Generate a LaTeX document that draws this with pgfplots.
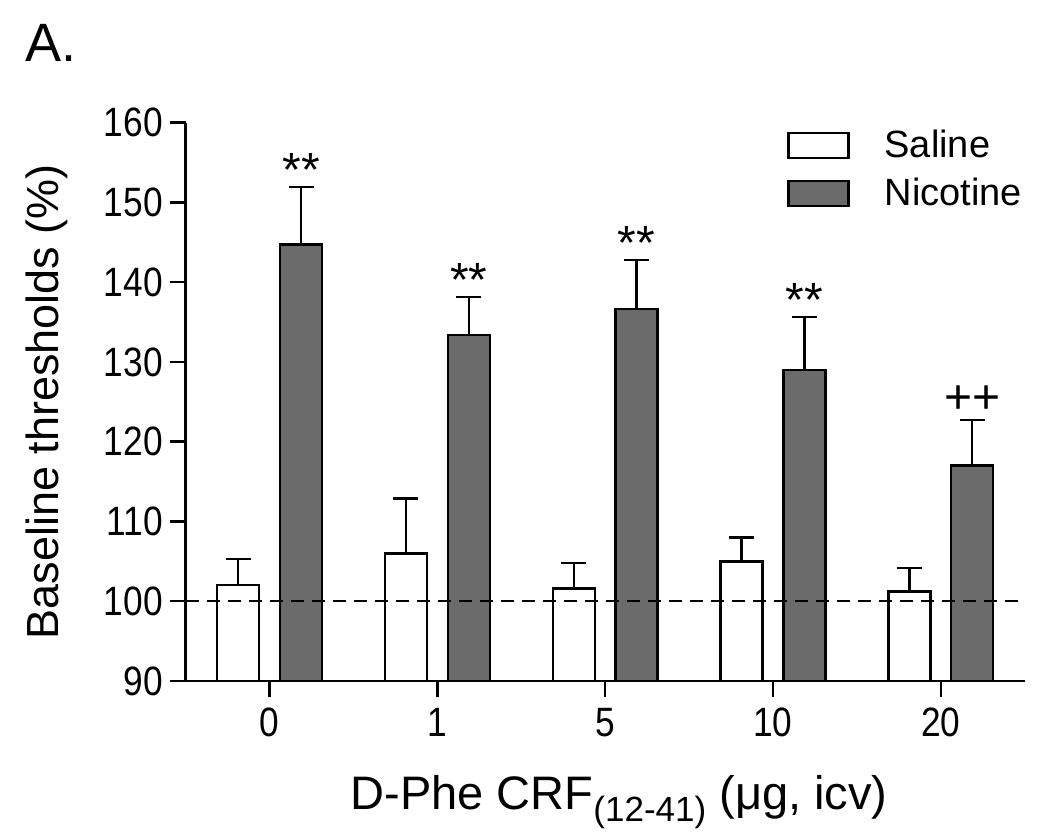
\documentclass[border=0pt]{standalone}
\usepackage{fontspec}
\setmainfont{Liberation Sans}
\newfontfamily\tickfont{Liberation Sans}[FakeStretch=0.86]
\usepackage{pgfplots}
\pgfplotsset{compat=1.18}
\definecolor{nicgray}{RGB}{107,107,107}

\begin{document}
\begin{tikzpicture}
\begin{axis}[
    scale only axis,
    width=419.5pt, height=279.2pt,
    xmin=-0.5, xmax=4.5, ymin=90, ymax=160,
    axis x line*=bottom, axis y line*=left,
    axis line style={line width=1.2pt, -},
    xtick={0,1,2,3,4}, xticklabels={0,1,5,10,20},
    ytick={90,100,...,160},
    tick align=outside, major tick length=8pt,
    tick style={line width=1.2pt, black},
    ticklabel style={font=\tickfont\fontsize{20.5}{20.5}\selectfont},
    xticklabel style={yshift=-2pt},
    /pgf/number format/assume math mode=true,
    ylabel={Baseline thresholds (\%)},
    ylabel style={at={(axis description cs:-0.1659,0.5)}, anchor=center,
        font=\fontsize{22.5}{22.5}\selectfont},
    xlabel={D-Phe CRF\raisebox{-6pt}{\fontsize{17.5}{17.5}\selectfont(12-41)} (μg, icv)},
    xlabel style={at={(axis description cs:0.5165,0)}, anchor=base, yshift=-64.5pt,
        font=\fontsize{23.5}{23.5}\selectfont},
    legend image code/.code={\draw[#1] (0pt,-6.25pt) rectangle (30pt,6.25pt);},
    legend style={at={(rel axis cs:0.7165,0.987)}, anchor=north west,
        draw=none, fill=none, inner sep=0pt, row sep=8.8pt, column sep=17.5pt,
        nodes={inner sep=0pt, anchor=west},
        font=\fontsize{19}{19}\selectfont},
    legend cell align=left,
]
% Saline (bars sit left of each dose tick)
\addplot[ybar, bar width=0.25, draw=black, fill=white, line width=1.2pt,
    error bars/.cd, y dir=plus, y explicit,
    error bar style={line width=1.2pt, black},
    error mark options={rotate=90, mark size=6.25pt, line width=1.2pt}]
coordinates {
    (-0.1875,102.0) +- (0,3.3)
    (0.8125,106.0) +- (0,6.9)
    (1.8125,101.6) +- (0,3.2)
    (2.8125,105.0) +- (0,3.0)
    (3.8125,101.2) +- (0,3.0)
};
\addlegendentry{Saline}
% Nicotine (bars right of each dose tick)
\addplot[ybar, bar width=0.25, draw=black, fill=nicgray, line width=1.2pt,
    error bars/.cd, y dir=plus, y explicit,
    error bar style={line width=1.2pt, black},
    error mark options={rotate=90, mark size=6.25pt, line width=1.2pt}]
coordinates {
    (0.1875,144.7) +- (0,7.2)
    (1.1875,133.4) +- (0,4.7)
    (2.1875,136.6) +- (0,6.2)
    (3.1875,129.0) +- (0,6.6)
    (4.1875,117.0) +- (0,5.7)
};
\addlegendentry{Nicotine}
% baseline reference
\addplot[black, line width=1.1pt, dash pattern=on 6.5pt off 4pt, forget plot]
    coordinates {(-0.5,100) (4.5,100)};

\node[anchor=base, font=\fontsize{24}{24}\selectfont] at (axis cs:0.1875,152.0) {**};
\node[anchor=base, font=\fontsize{24}{24}\selectfont] at (axis cs:1.1875,138.15) {**};
\node[anchor=base, font=\fontsize{24}{24}\selectfont] at (axis cs:2.1875,142.85) {**};
\node[anchor=base, font=\fontsize{24}{24}\selectfont] at (axis cs:3.1875,135.65) {**};
\node[anchor=base, font=\fontsize{24}{24}\selectfont] at (axis cs:4.1875,123.55) {++};
\end{axis}
\node[anchor=base west, font=\fontsize{27}{27}\selectfont]
    at ([shift={(-83.5pt,309.5pt)}]current axis.south west) {A.};
\pgfresetboundingbox
\path[use as bounding box] ([shift={(-92.85pt,-76.5pt)}]current axis.south west)
    rectangle ([shift={(432.15pt,340.5pt)}]current axis.south west);
\end{tikzpicture}
\end{document}
